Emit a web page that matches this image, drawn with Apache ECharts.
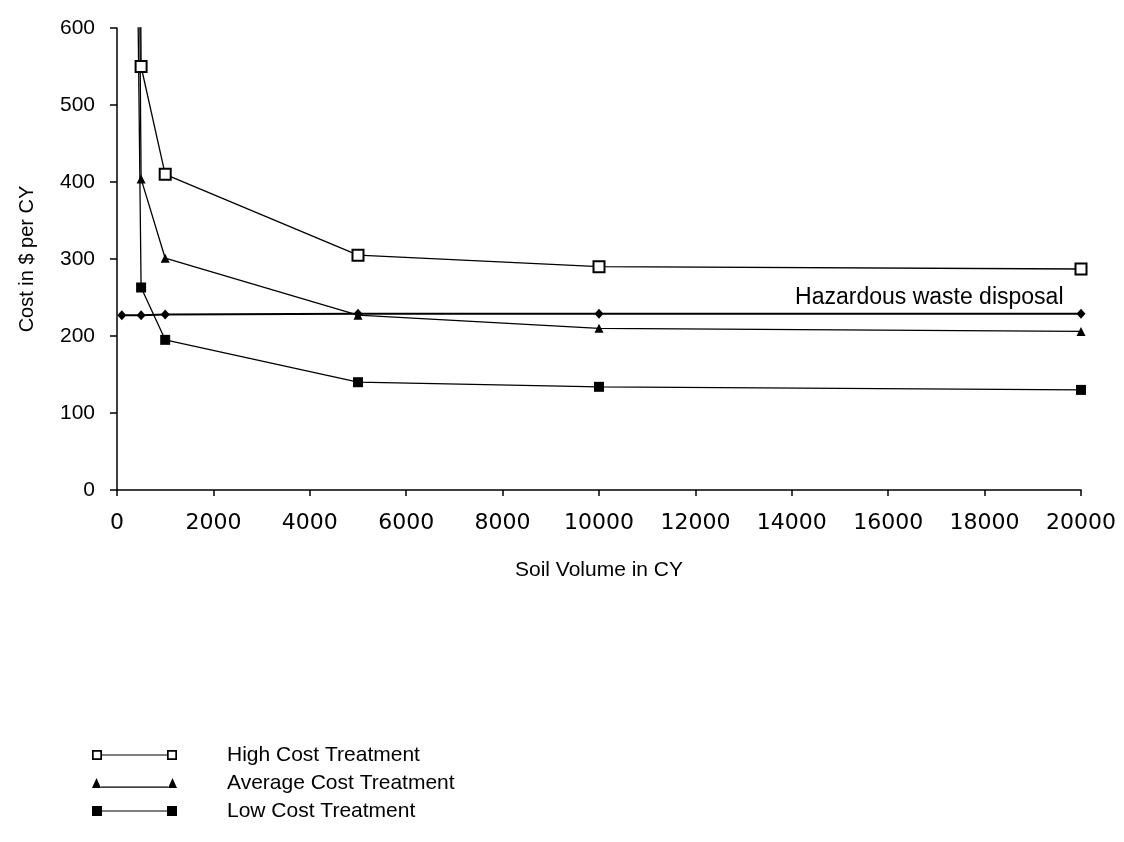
<!DOCTYPE html>
<html>
<head>
<meta charset="utf-8">
<script src="https://cdn.jsdelivr.net/npm/echarts@6/dist/echarts.min.js"></script>
<style>
  html, body { margin: 0; background: #fff; }
  #chart { width: 1124px; height: 842px; }
</style>
</head>
<body>
<div id="chart"></div>
<script>
// soil volume in CY for every curve
const volumes = [100, 500, 1000, 5000, 10000, 20000];
// cost in $ per CY, first points sit far above the top of the plot
const highCost = [4500, 550, 410, 305, 290, 287];
const avgCost = [3500, 404, 301, 227, 210, 206];
const lowCost = [2500, 263, 195, 140, 134, 130];
const hazardous = [227, 227, 228, 229, 229, 229];
// axis ranges (min, max, step)
const xTicks = [0, 20000, 2000];
const yTicks = [0, 600, 100];

const pts = vals => volumes.map((v, i) => [v, vals[i]]);

// legend icons: marker - line - marker
const iconHigh = 'path://M0,0H10V10H0Z M1.7,1.7V8.3H8.3V1.7Z M10,4.4H75V5.6H10Z M75,0H85V10H75Z M76.7,1.7V8.3H83.3V1.7Z';
const iconAvg = 'path://M0,10L4.5,0L9,10Z M9,8.6H76V9.8H9Z M76,10L80.5,0L85,10Z';
const iconLow = 'path://M0,0H10V10H0Z M10,4.4H75V5.6H10Z M75,0H85V10H75Z';

const chart = echarts.init(document.getElementById('chart'));
chart.setOption({
  animation: false,
  backgroundColor: '#fff',
  grid: { left: 117, right: 43, top: 28, bottom: 352 },
  xAxis: {
    type: 'value',
    min: xTicks[0], max: xTicks[1], interval: xTicks[2],
    name: 'Soil Volume in CY',
    nameLocation: 'middle',
    nameGap: 70,
    nameTextStyle: { fontSize: 21, color: '#000', fontFamily: 'Liberation Sans' },
    axisLine: { lineStyle: { color: '#000', width: 1.5 } },
    axisTick: { length: 6, lineStyle: { color: '#000', width: 1.5 } },
    axisLabel: {
      margin: 22, fontSize: 22, color: '#000', fontFamily: 'DejaVu Sans',
      formatter: v => String(v)
    },
    splitLine: { show: false }
  },
  yAxis: {
    type: 'value',
    min: yTicks[0], max: yTicks[1], interval: yTicks[2],
    name: 'Cost in $ per CY',
    nameLocation: 'middle',
    nameGap: 80,
    nameTextStyle: { fontSize: 20, color: '#000', fontFamily: 'Liberation Sans' },
    axisLine: { show: true, lineStyle: { color: '#000', width: 1.5 } },
    axisTick: { show: true, length: 7, lineStyle: { color: '#000', width: 1.5 } },
    axisLabel: { margin: 22, fontSize: 21, color: '#000', fontFamily: 'Liberation Sans' },
    splitLine: { show: false }
  },
  legend: {
    left: 92, top: 744, orient: 'vertical', padding: 0,
    itemWidth: 85, itemHeight: 10, itemGap: 6,
    data: [
      { name: 'High Cost Treatment', icon: iconHigh },
      { name: 'Average Cost Treatment', icon: iconAvg },
      { name: 'Low Cost Treatment', icon: iconLow }
    ],
    itemStyle: { color: '#000', borderWidth: 0 },
    textStyle: { fontSize: 21, color: '#000', fontFamily: 'Liberation Sans', padding: [0, 0, 0, 45], lineHeight: 22 }
  },
  series: [
    {
      name: 'High Cost Treatment', type: 'line', data: pts(highCost),
      symbol: 'emptyRect', symbolSize: 11,
      lineStyle: { color: '#000', width: 1.3 },
      itemStyle: { color: '#000', borderWidth: 1.6 }
    },
    {
      name: 'Average Cost Treatment', type: 'line', data: pts(avgCost),
      symbol: 'triangle', symbolSize: 9,
      lineStyle: { color: '#000', width: 1.3 },
      itemStyle: { color: '#000' }
    },
    {
      name: 'Low Cost Treatment', type: 'line', data: pts(lowCost),
      symbol: 'rect', symbolSize: 10,
      lineStyle: { color: '#000', width: 1.3 },
      itemStyle: { color: '#000' }
    },
    {
      name: 'Hazardous waste disposal', type: 'line', data: pts(hazardous),
      symbol: 'diamond', symbolSize: [9, 10],
      lineStyle: { color: '#000', width: 2 },
      itemStyle: { color: '#000' },
      label: {
        show: true, position: 'left', distance: 13, offset: [0, -16],
        fontSize: 23, color: '#000', fontFamily: 'Liberation Sans',
        formatter: p => p.dataIndex === volumes.length - 1 ? p.seriesName : ''
      }
    }
  ]
});
</script>
</body>
</html>
